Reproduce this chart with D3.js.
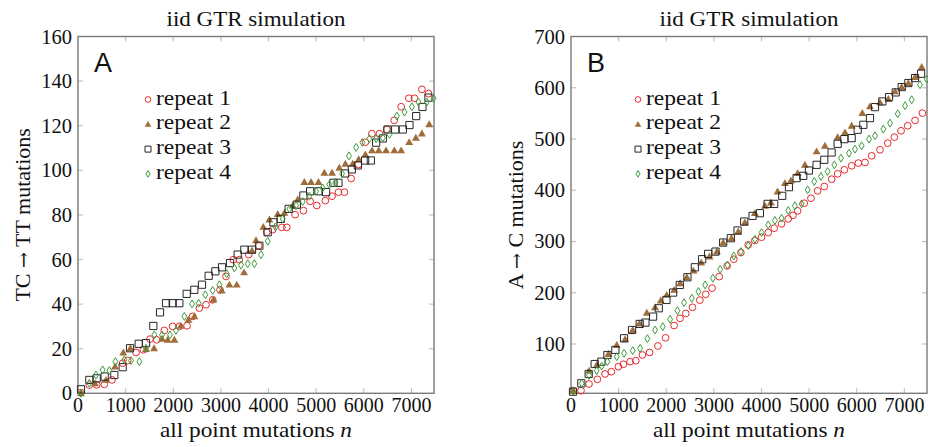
<!DOCTYPE html>
<html><head><meta charset="utf-8">
<script src="https://cdn.jsdelivr.net/npm/d3@7"></script>
<style>body{margin:0;background:#fff} text{font-family:"Liberation Serif","Times New Roman",Times,serif;}</style>
</head><body>
<svg id="chart" width="928" height="447"></svg>
<script>
// ---------------- data ----------------
const seriesNames = ["repeat 1", "repeat 2", "repeat 3", "repeat 4"];
const titleText = "iid GTR simulation";
const xLabelText = "all point mutations";
const xTicks = [0, 1000, 2000, 3000, 4000, 5000, 6000, 7000];
const yTicksA = [0, 20, 40, 60, 80, 100, 120, 140, 160];
const yTicksB = [100, 200, 300, 400, 500, 600, 700];
const yLabelA = ["TC", "TT mutations"];
const yLabelB = ["A", "C mutations"];

// Panel A: TC -> TT mutations  [n, count]
const tcRepeat1 = [[63,0.3],[238,3.7],[392,3.8],[553,4.0],[714,6.0],[938,13.5],[1043,14.7],[1218,18.3],[1372,19.5],[1512,24.3],[1652,24.0],[1813,28.2],[1988,30.0],[2128,30.0],[2289,30.3],[2408,34.5],[2548,38.2],[2688,39.7],[2828,41.9],[2982,46.4],[3108,52.4],[3262,59.9],[3388,59.9],[3584,62.2],[3794,66.2],[3962,72.2],[4088,73.4],[4279,74.4],[4384,74.4],[4559,80.1],[4734,81.9],[4874,86.1],[5014,84.2],[5194,86.4],[5334,88.4],[5469,90.2],[5595,90.2],[5735,96.3],[5889,102.6],[6034,112.6],[6170,116.4],[6330,116.4],[6485,118.3],[6639,122.4],[6786,128.5],[6947,132.3],[7065,132.3],[7221,136.3],[7359,134.4]];
const tcRepeat2 = [[63,0],[357,4.5],[588,6.0],[777,12.0],[952,18.3],[1100,20.2],[1428,19.8],[1597,20.2],[1764,24.4],[1883,24.0],[2023,24.0],[2157,30.2],[2318,33.0],[2443,34.5],[2843,42.0],[3018,46.1],[3179,48.7],[3333,48.7],[3487,54.2],[3654,64.0],[3738,68.6],[3892,74.6],[4018,77.9],[4193,80.4],[4333,80.9],[4508,84.2],[4613,86.9],[4753,94.7],[4893,94.7],[5049,94.7],[5173,98.9],[5334,98.9],[5488,101.1],[5614,102.9],[5768,102.9],[5894,104.9],[6034,107.1],[6174,108.9],[6314,108.9],[6468,108.9],[6643,108.9],[6786,108.9],[6954,112.6],[7094,114.6],[7221,116.5],[7374,120.6]];
const tcRepeat3 = [[63,1.8],[238,6.0],[392,6.7],[560,7.5],[763,8.2],[938,11.7],[1092,20.2],[1274,22.2],[1428,22.5],[1582,30.2],[1722,36.3],[1848,40.4],[1988,40.4],[2128,40.4],[2282,44.6],[2443,46.4],[2604,48.7],[2744,52.7],[2884,54.7],[3024,56.5],[3192,58.4],[3353,62.2],[3493,64.4],[3654,64.4],[3808,66.2],[3983,72.2],[4103,76.7],[4258,78.2],[4424,82.7],[4595,84.6],[4733,88.7],[4874,90.6],[5048,90.6],[5210,90.2],[5363,94.4],[5469,94.4],[5609,98.6],[5750,100.4],[5876,102.2],[6029,104.4],[6149,104.4],[6261,112.4],[6401,114.3],[6498,118.3],[6660,118.3],[6821,118.3],[6960,120.3],[7101,124.3],[7233,128.4],[7359,132.6]];
const tcRepeat4 = [[63,0],[238,4.5],[378,8.2],[518,10.5],[658,10.2],[784,14.2],[973,15.0],[1113,14.7],[1288,14.2],[1428,20.2],[1603,26.2],[1764,26.2],[1932,26.2],[2058,28.2],[2233,34.5],[2394,40.1],[2534,40.4],[2674,44.2],[2828,46.1],[2968,48.7],[3122,53.6],[3283,56.2],[3423,57.5],[3563,58.1],[3703,58.1],[3843,62.2],[3983,68.2],[4144,74.6],[4298,78.2],[4438,82.7],[4578,84.2],[4718,86.0],[4858,88.4],[4998,90.6],[5138,92.1],[5278,93.6],[5404,94.4],[5544,98.5],[5690,106.5],[5840,110.3],[5970,112.5],[6120,114.2],[6260,114.2],[6401,114.6],[6540,116.1],[6695,124.3],[6855,126.1],[7010,128.5],[7149,130.6],[7325,130.6],[7465,132.3]];

// Panel B: A -> C mutations  [n, count]
const acRepeat1 = [[49,8.8],[210,8.8],[378,21.9],[554,31],[715,41.4],[848,46],[995,55.7],[1100,60.5],[1240,65.5],[1360,67.4],[1500,78.5],[1650,83.4],[1825,96.1],[1985,112],[2165,136],[2288,150],[2410,159.5],[2550,171.6],[2705,185.5],[2828,197],[2962,209],[3111,231.5],[3279,252.3],[3419,265.4],[3567,278.4],[3721,293.4],[3861,301.8],[4001,308.3],[4141,317.4],[4267,325.9],[4421,334.4],[4561,344.1],[4660,351],[4758,359.8],[4898,374.7],[5038,384.5],[5178,398.8],[5318,407.3],[5472,421.6],[5599,432],[5739,439.8],[5893,447.7],[6033,452.9],[6173,454.2],[6313,467.2],[6488,478.9],[6650,491.9],[6790,503.6],[6930,516],[7070,525.8],[7224,536.2],[7378,550.5]];
const acRepeat2 = [[49,8.8],[378,47.9],[540,59],[785,80.5],[960,98],[1135,109],[1296,127],[1436,140],[1591,161],[1766,171.6],[1885,184.6],[2011,195.7],[2165,205.5],[2291,218.5],[2432,230.3],[2571,243],[2733,258.8],[2907,270.5],[3063,280.3],[3195,297.9],[3370,306.4],[3511,319.4],[3651,337],[3861,355.2],[4071,369.5],[4197,376],[4337,397.5],[4492,413.8],[4618,419],[4758,433.3],[4912,449.6],[5157,475.7],[5332,486.7],[5599,503.6],[5753,512.8],[5893,525.8],[6117,550.5],[6278,563.5],[6488,571.4],[6664,577.9],[6804,592.8],[6944,601.3],[7084,609.2],[7224,620.8],[7364,640.4]];
const acRepeat3 = [[42,6.9],[217,23.2],[371,41.4],[497,60.9],[638,65.5],[764,78.5],[932,88.3],[1114,111.1],[1282,127.3],[1443,139.1],[1563,141.7],[1724,153.4],[1843,169.7],[2004,185.9],[2144,200.3],[2284,215.2],[2445,230.2],[2600,249.7],[2754,265.4],[2880,275.8],[3034,280.3],[3195,297.9],[3356,306.4],[3497,321.4],[3637,338.9],[3812,350],[3966,355.2],[4127,373.4],[4267,373.4],[4435,389.1],[4576,406],[4737,423.6],[4877,428.1],[4996,438.5],[5157,449.6],[5318,459.4],[5472,473.7],[5599,490.6],[5739,499.7],[5893,501.7],[6019,518],[6138,527.7],[6278,540.8],[6383,562.2],[6538,573.3],[6678,581.8],[6818,590.9],[6944,601.3],[7084,609.2],[7224,618.9],[7350,627.3]];
const acRepeat4 = [[49,6.8],[224,23.2],[378,38.8],[540,47.9],[645,57],[764,65.4],[960,75.2],[1114,81.8],[1296,86.9],[1450,91.5],[1604,110.4],[1766,127.3],[1927,133.8],[2081,148.2],[2235,165],[2375,180.7],[2537,189.2],[2676,202.2],[2817,215.2],[2979,228.3],[3132,245.8],[3286,254.3],[3419,271.9],[3567,280.3],[3721,292],[3861,304.4],[4001,317.4],[4141,332.4],[4281,340.9],[4421,345.4],[4561,360.4],[4702,369.5],[4842,373.4],[4968,400.8],[5108,417.1],[5248,426.8],[5388,436.6],[5529,449.6],[5669,462.6],[5837,472.4],[5963,480.2],[6103,486.7],[6257,499.7],[6383,506.3],[6558,519.3],[6699,531],[6860,549.2],[7014,564.8],[7154,576.6],[7329,605.9],[7470,616.9]];

// ---------------- drawing ----------------
const svg = d3.select("#chart");
const colors = ["#e8282d", "#9f6d3a", "#262626", "#3c9c3c"];

function markerPath(type, s) {
  if (type === 1) { const h = s * 0.9; return `M0,${-h*0.62}L${s*0.55},${h*0.45}L${-s*0.55},${h*0.45}Z`; }
  if (type === 2) { const h = s / 2; return `M${-h},${-h}H${h}V${h}H${-h}Z`; }
  return `M0,${-s*0.55}L${s*0.34},0L0,${s*0.55}L${-s*0.34},0Z`;
}
function drawMarker(g, type, x, y, s) {
  if (type === 0) {
    g.append("circle").attr("cx", x).attr("cy", y).attr("r", s * 0.47)
      .attr("fill", "none").attr("stroke", colors[0]).attr("stroke-width", 1);
  } else {
    g.append("path").attr("d", markerPath(type, s)).attr("transform", `translate(${x},${y})`)
      .attr("fill", type === 1 ? colors[1] : "none")
      .attr("stroke", type === 1 ? "none" : colors[type]).attr("stroke-width", 1);
  }
}

function drawPanel(cfg) {
  const {left, right, top, bottom, yDomain, yTicks, series, letter, yLabel, legendX} = cfg;
  const x = d3.scaleLinear().domain([0, 7475]).range([left, right]);
  const y = d3.scaleLinear().domain(yDomain).range([bottom, top]);
  const g = svg.append("g");

  const tickCol = "#c4c4c4", tl = 5;
  xTicks.forEach(t => {
    if (t === 0) return;
    g.append("line").attr("x1", x(t)).attr("x2", x(t)).attr("y1", bottom).attr("y2", bottom - tl).attr("stroke", tickCol).attr("stroke-width", 1.2);
    g.append("line").attr("x1", x(t)).attr("x2", x(t)).attr("y1", top).attr("y2", top + tl).attr("stroke", tickCol).attr("stroke-width", 1.2);
  });
  yTicks.forEach(t => {
    if (y(t) >= bottom - 0.5 || y(t) <= top + 0.5) return;
    g.append("line").attr("x1", left).attr("x2", left + tl).attr("y1", y(t)).attr("y2", y(t)).attr("stroke", tickCol).attr("stroke-width", 1.2);
    g.append("line").attr("x1", right).attr("x2", right - tl).attr("y1", y(t)).attr("y2", y(t)).attr("stroke", tickCol).attr("stroke-width", 1.2);
  });
  g.append("rect").attr("x", left).attr("y", top).attr("width", right - left).attr("height", bottom - top)
    .attr("fill", "none").attr("stroke", "#7a7a7a").attr("stroke-width", 1.4);

  g.selectAll(".xt").data(xTicks).join("text")
    .attr("x", d => x(d)).attr("y", bottom + 19).attr("text-anchor", "middle")
    .attr("font-size", 20).attr("fill", "#111").text(d => d);
  g.selectAll(".yt").data(yTicks).join("text")
    .attr("x", left - 6).attr("y", d => y(d) + 7).attr("text-anchor", "end")
    .attr("font-size", 20.5).attr("fill", "#111").text(d => d);

  g.append("text").attr("x", (left + right) / 2).attr("y", 26).attr("text-anchor", "middle")
    .attr("font-size", 21).attr("textLength", 179).attr("lengthAdjust", "spacingAndGlyphs")
    .attr("fill", "#111").text(titleText);

  const xl = g.append("text").attr("x", (left + right) / 2).attr("y", 437).attr("text-anchor", "middle")
    .attr("font-size", 21.5).attr("textLength", 192).attr("lengthAdjust", "spacingAndGlyphs").attr("fill", "#111");
  xl.append("tspan").text(xLabelText + " ");
  xl.append("tspan").attr("font-style", "italic").text("n");

  const yl = g.append("text").attr("transform", `translate(${left - 48},${(top + bottom) / 2}) rotate(-90)`)
    .attr("text-anchor", "middle").attr("font-size", 22).attr("fill", "#111");
  yl.append("tspan").text(yLabel[0] + " ");
  yl.append("tspan").style("font-family", "'DejaVu Serif'").attr("font-size", 19).text("\u2192");
  yl.append("tspan").text(" " + yLabel[1]);

  g.append("text").attr("x", left + 16).attr("y", 72)
    .style("font-family", "'Liberation Sans', Arial, sans-serif").attr("font-size", 27).attr("fill", "#111").text(letter);

  series.forEach((s, i) => {
    const sg = g.append("g");
    s.forEach(d => drawMarker(sg, i, x(d[0]), y(d[1]), 7.2));
  });

  seriesNames.forEach((name, i) => {
    const cy = 99.5 + i * 24.8;
    drawMarker(g, i, legendX, cy, 6);
    g.append("text").attr("x", legendX + 8).attr("y", cy + 5)
      .attr("font-size", 22).attr("fill", "#111")
      .attr("textLength", 75).attr("lengthAdjust", "spacingAndGlyphs").text(name);
  });
}

drawPanel({left: 78, right: 434, top: 36.5, bottom: 393.3, yDomain: [0, 160], yTicks: yTicksA,
  series: [tcRepeat1, tcRepeat2, tcRepeat3, tcRepeat4], letter: "A",
  yLabel: yLabelA, legendX: 148});
drawPanel({left: 571, right: 927, top: 36.5, bottom: 393.3, yDomain: [3.75, 700], yTicks: yTicksB,
  series: [acRepeat1, acRepeat2, acRepeat3, acRepeat4], letter: "B",
  yLabel: yLabelB, legendX: 638});
</script>
</body></html>
